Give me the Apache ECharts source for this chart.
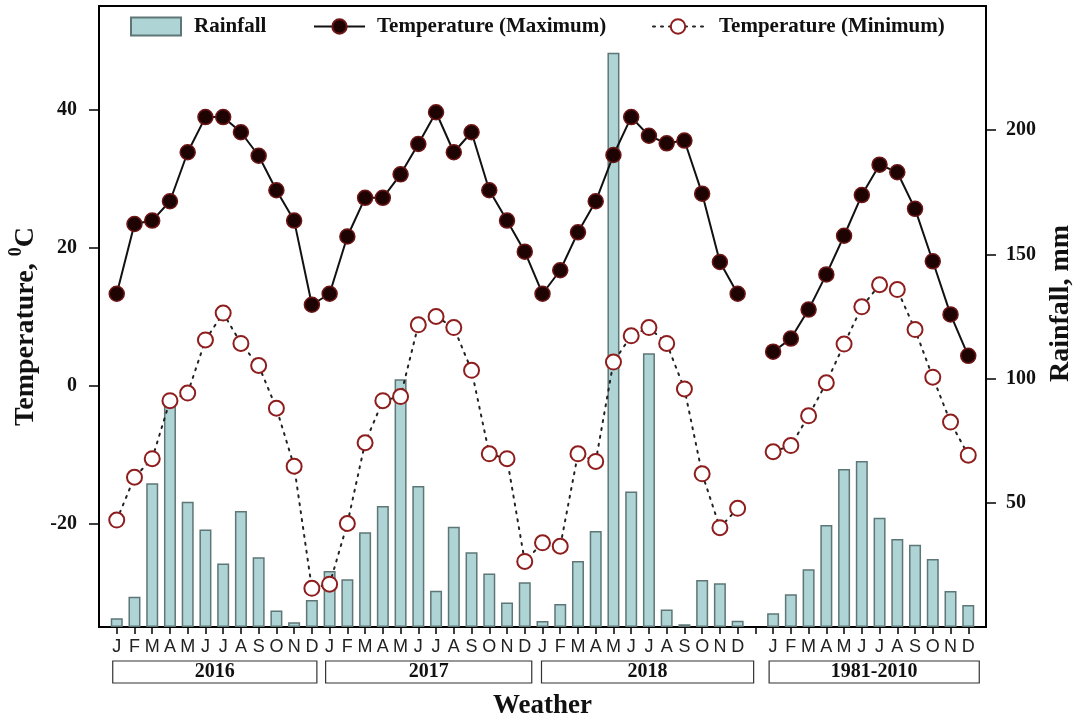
<!DOCTYPE html>
<html>
<head>
<meta charset="utf-8">
<script src="https://cdn.jsdelivr.net/npm/echarts@6/dist/echarts.min.js"></script>
<style>
html,body{margin:0;padding:0;background:#fff;}
#wrap{width:1083px;height:725px;}
</style>
</head>
<body>
<div id="wrap"></div>
<script>
// month letters and the four periods shown under the axis
var months = ['J', 'F', 'M', 'A', 'M', 'J', 'J', 'A', 'S', 'O', 'N', 'D'];
var periods = ['2016', '2017', '2018', '1981-2010'];

// rainfall, mm
var rain2016 = [3.5, 12.2, 57.9, 89.5, 50.4, 39.3, 25.6, 46.7, 28.1, 6.6, 1.9, 10.9];
var rain2017 = [22.5, 19.2, 38.1, 48.7, 99.7, 56.8, 14.6, 40.4, 30.1, 21.5, 9.9, 18.0];
var rain2018 = [2.4, 9.3, 26.6, 38.6, 231.2, 54.5, 110.2, 7.0, 1.1, 18.9, 17.6, 2.5];
var rainNormal = [5.5, 13.2, 23.2, 41.1, 63.6, 66.8, 44.0, 35.4, 33.1, 27.4, 14.5, 8.9];

// maximum temperature, oC
var tmax2016 = [13.3, 23.4, 23.9, 26.7, 33.8, 38.9, 38.9, 36.7, 33.3, 28.3, 23.9, 11.7];
var tmax2017 = [13.3, 21.6, 27.2, 27.2, 30.6, 35.0, 39.6, 33.8, 36.7, 28.3, 23.9, 19.4];
var tmax2018 = [13.3, 16.7, 22.2, 26.7, 33.4, 38.9, 36.2, 35.1, 35.5, 27.8, 17.9, 13.3];
var tmaxNormal = [4.9, 6.8, 11.0, 16.1, 21.7, 27.6, 32.0, 30.9, 25.6, 18.0, 10.3, 4.3];

// minimum temperature, oC
var tmin2016 = [-19.5, -13.3, -10.6, -2.2, -1.1, 6.6, 10.5, 6.1, 2.9, -3.3, -11.7, -29.4];
var tmin2017 = [-28.8, -20.0, -8.3, -2.2, -1.6, 8.8, 10.0, 8.4, 2.2, -9.9, -10.6, -25.5];
var tmin2018 = [-22.8, -23.3, -9.9, -11.0, 3.4, 7.2, 8.4, 6.1, -0.5, -12.8, -20.6, -17.8];
var tminNormal = [-9.6, -8.7, -4.4, 0.4, 6.0, 11.4, 14.6, 13.9, 8.1, 1.2, -5.3, -10.1];

var tempTicks = [-20, 0, 20, 40];
var rainTicks = [50, 100, 150, 200];

var rainSets = [rain2016, rain2017, rain2018, rainNormal];
var tmaxSets = [tmax2016, tmax2017, tmax2018, tmaxNormal];
var tminSets = [tmin2016, tmin2017, tmin2018, tminNormal];

// build the slots: one empty slot at each end and one before the normals
var slots = ['pad0'];
var rain = [null], tmax = [null], tmin = [null];
var groups = [];
periods.forEach(function(p, i) {
    if (p === '1981-2010') {
        slots.push('gap'); rain.push(null); tmax.push(null); tmin.push(null);
    }
    var g = {name: p, first: null, last: null};
    months.forEach(function(m, j) {
        var key = p + '|' + m + '|' + j;
        if (j === 0) g.first = key;
        g.last = key;
        slots.push(key);
        rain.push(rainSets[i][j]);
        tmax.push(tmaxSets[i][j]);
        tmin.push(tminSets[i][j]);
    });
    groups.push(g);
});
slots.push('pad1'); rain.push(null); tmax.push(null); tmin.push(null);

var serif = '"Liberation Serif", "Times New Roman", serif';
var ink = '#111';

var chart = echarts.init(document.getElementById('wrap'));

function legendBox(name, left, width, pad, icon) {
    var l = {
        data: [name],
        left: left,
        top: 16,
        padding: 0,
        itemWidth: width,
        itemHeight: 18,
        selectedMode: false,
        textStyle: {fontFamily: serif, fontWeight: 'bold', fontSize: 21, color: ink, padding: [0, 0, 0, pad]}
    };
    if (icon) l.icon = icon;
    return l;
}

var option = {
    animation: false,
    backgroundColor: '#fff',
    grid: {
        left: 99, right: 97, top: 6, bottom: 98,
        containLabel: false,
        outerBoundsMode: 'none',
        show: true, borderColor: '#000', borderWidth: 2
    },
    legend: [
        legendBox('Rainfall', 130, 50, 8, 'rect'),
        legendBox('Temperature (Maximum)', 313, 51, 7),
        legendBox('Temperature (Minimum)', 652, 50, 11)
    ],
    xAxis: {
        type: 'category',
        data: slots,
        boundaryGap: false,
        name: 'Weather',
        nameLocation: 'middle',
        nameGap: 66,
        nameTextStyle: {fontFamily: serif, fontWeight: 'bold', fontSize: 27, color: ink},
        axisLine: {onZero: false, lineStyle: {color: '#000', width: 2}},
        axisTick: {
            length: 7,
            lineStyle: {color: '#000', width: 1.5},
            interval: function(index, value) { return String(value).indexOf('pad') !== 0; }
        },
        axisLabel: {
            interval: 0,
            margin: 11,
            fontFamily: '"Liberation Sans", Arial, sans-serif',
            fontSize: 18,
            color: '#222',
            formatter: function(v) { var p = String(v).split('|'); return p.length > 1 ? p[1] : ''; }
        },
        splitLine: {show: false}
    },
    yAxis: [{
        type: 'value',
        position: 'left',
        min: -35,
        max: 55,
        name: '{t|Temperature, }{s|0}{t|C}',
        nameLocation: 'middle',
        nameGap: 56,
        nameRotate: 90,
        nameTextStyle: {
            padding: [0, 20, 0, 0],
            rich: {
                t: {fontFamily: serif, fontWeight: 'bold', fontSize: 28, color: ink, lineHeight: 32, verticalAlign: 'bottom'},
                s: {fontFamily: serif, fontWeight: 'bold', fontSize: 18, color: ink, lineHeight: 32, verticalAlign: 'top'}
            }
        },
        axisLine: {show: true, lineStyle: {color: '#000', width: 2}},
        axisTick: {show: true, length: 10, customValues: tempTicks, lineStyle: {color: '#000', width: 1.5}},
        axisLabel: {customValues: tempTicks, margin: 22, fontFamily: serif, fontWeight: 'bold', fontSize: 20, color: ink},
        splitLine: {show: false}
    }, {
        type: 'value',
        position: 'right',
        min: 0,
        max: 250,
        name: 'Rainfall, mm',
        nameLocation: 'middle',
        nameGap: 58,
        nameRotate: 90,
        nameTextStyle: {fontFamily: serif, fontWeight: 'bold', fontSize: 28, color: ink, padding: [0, 0, 0, 26]},
        axisLine: {show: true, lineStyle: {color: '#000', width: 2}},
        axisTick: {show: true, length: 10, customValues: rainTicks, lineStyle: {color: '#000', width: 1.5}},
        axisLabel: {customValues: rainTicks, margin: 20, fontFamily: serif, fontWeight: 'bold', fontSize: 20, color: ink},
        splitLine: {show: false}
    }],
    series: [{
        name: 'Rainfall',
        type: 'bar',
        yAxisIndex: 1,
        barWidth: 12,
        data: rain,
        itemStyle: {color: '#afd4d6', borderColor: '#5e7676', borderWidth: 1.5}
    }, {
        name: 'Temperature (Maximum)',
        type: 'line',
        yAxisIndex: 0,
        data: tmax,
        connectNulls: false,
        symbol: 'circle',
        symbolSize: 15,
        lineStyle: {color: '#111', width: 2},
        itemStyle: {color: '#1e0303', borderColor: '#6e1616', borderWidth: 1.5}
    }, {
        name: 'Temperature (Minimum)',
        type: 'line',
        yAxisIndex: 0,
        data: tmin,
        connectNulls: false,
        symbol: 'emptyCircle',
        symbolSize: 15,
        lineStyle: {color: '#222', width: 2, type: [2, 6], cap: 'round'},
        itemStyle: {color: '#8e1d1d', borderColor: '#8e1d1d', borderWidth: 2}
    }]
};
chart.setOption(option);

// boxes with the period names under the month letters
var insets = [[-4, 5], [-4, 7], [-1, 16], [-4, 11]];
var boxes = [];
groups.forEach(function(g, i) {
    var x0 = chart.convertToPixel({xAxisIndex: 0}, g.first) + insets[i][0];
    var x1 = chart.convertToPixel({xAxisIndex: 0}, g.last) + insets[i][1];
    boxes.push({
        type: 'rect',
        shape: {x: x0, y: 661, width: x1 - x0, height: 22},
        style: {fill: '#fff', stroke: '#333', lineWidth: 1.2}
    });
    boxes.push({
        type: 'text',
        x: (x0 + x1) / 2,
        y: 672,
        style: {
            text: g.name,
            font: 'bold 20px ' + serif,
            fill: ink,
            textAlign: 'center', textVerticalAlign: 'middle',
            align: 'center', verticalAlign: 'middle'
        }
    });
});
chart.setOption({graphic: boxes});
</script>
</body>
</html>
